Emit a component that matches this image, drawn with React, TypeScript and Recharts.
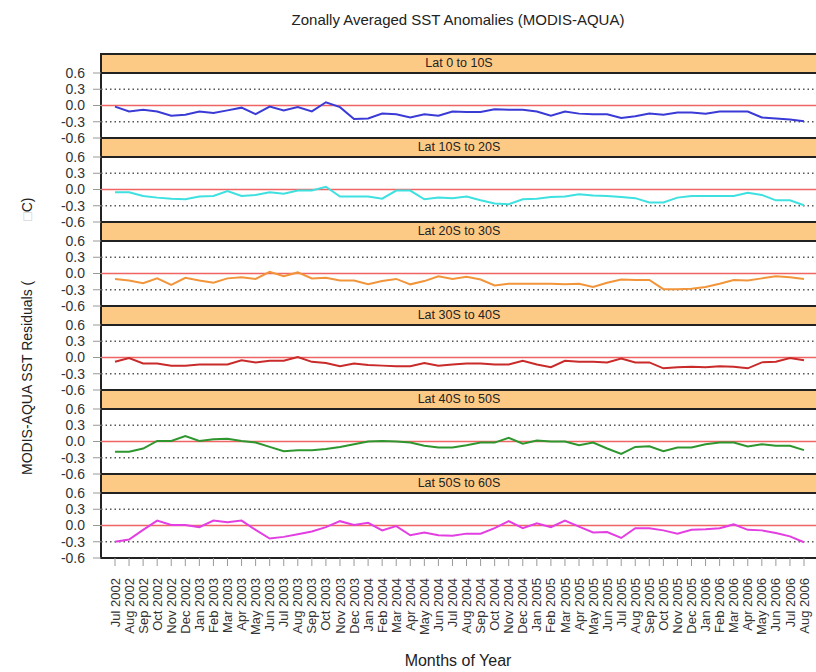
import React from 'react'
import { LineChart, Line, XAxis, YAxis, ReferenceLine } from 'recharts'

const months = [
  'Jul 2002', 'Aug 2002', 'Sep 2002', 'Oct 2002', 'Nov 2002', 'Dec 2002',
  'Jan 2003', 'Feb 2003', 'Mar 2003', 'Apr 2003', 'May 2003', 'Jun 2003',
  'Jul 2003', 'Aug 2003', 'Sep 2003', 'Oct 2003', 'Nov 2003', 'Dec 2003',
  'Jan 2004', 'Feb 2004', 'Mar 2004', 'Apr 2004', 'May 2004', 'Jun 2004',
  'Jul 2004', 'Aug 2004', 'Sep 2004', 'Oct 2004', 'Nov 2004', 'Dec 2004',
  'Jan 2005', 'Feb 2005', 'Mar 2005', 'Apr 2005', 'May 2005', 'Jun 2005',
  'Jul 2005', 'Aug 2005', 'Sep 2005', 'Oct 2005', 'Nov 2005', 'Dec 2005',
  'Jan 2006', 'Feb 2006', 'Mar 2006', 'Apr 2006', 'May 2006', 'Jun 2006',
  'Jul 2006', 'Aug 2006',
]

const lat0to10 = [
  -0.02, -0.11, -0.08, -0.11, -0.19, -0.17, -0.11, -0.14, -0.09, -0.04,
  -0.16, -0.02, -0.09, -0.03, -0.11, 0.06, -0.03, -0.25, -0.24, -0.15,
  -0.16, -0.22, -0.16, -0.19, -0.11, -0.12, -0.12, -0.07, -0.08, -0.08,
  -0.11, -0.19, -0.11, -0.15, -0.16, -0.16, -0.23, -0.2, -0.15, -0.17,
  -0.13, -0.13, -0.15, -0.11, -0.11, -0.11, -0.22, -0.24, -0.26, -0.29,
]
const lat10to20 = [
  -0.05, -0.05, -0.12, -0.15, -0.17, -0.18, -0.13, -0.12, -0.03, -0.12,
  -0.1, -0.05, -0.08, -0.02, -0.02, 0.05, -0.13, -0.13, -0.13, -0.17,
  -0.02, -0.02, -0.18, -0.15, -0.16, -0.13, -0.2, -0.26, -0.27, -0.18,
  -0.17, -0.14, -0.13, -0.09, -0.11, -0.12, -0.14, -0.16, -0.24, -0.24,
  -0.15, -0.12, -0.12, -0.12, -0.12, -0.06, -0.1, -0.2, -0.2, -0.29,
]
const lat20to30 = [
  -0.1, -0.13, -0.18, -0.09, -0.21, -0.08, -0.13, -0.17, -0.09, -0.07,
  -0.1, 0.03, -0.05, 0.02, -0.09, -0.08, -0.13, -0.13, -0.2, -0.14,
  -0.1, -0.2, -0.14, -0.05, -0.1, -0.06, -0.11, -0.22, -0.19, -0.19,
  -0.19, -0.19, -0.2, -0.19, -0.25, -0.17, -0.11, -0.12, -0.12, -0.29,
  -0.29, -0.28, -0.25, -0.19, -0.12, -0.13, -0.09, -0.05, -0.07, -0.1,
]
const lat30to40 = [
  -0.08, -0.01, -0.11, -0.11, -0.15, -0.15, -0.13, -0.13, -0.13, -0.05,
  -0.09, -0.06, -0.06, 0.01, -0.08, -0.1, -0.16, -0.11, -0.14, -0.15,
  -0.16, -0.16, -0.1, -0.15, -0.13, -0.11, -0.11, -0.13, -0.13, -0.06,
  -0.13, -0.18, -0.06, -0.08, -0.08, -0.09, -0.02, -0.09, -0.09, -0.2,
  -0.18, -0.17, -0.18, -0.16, -0.17, -0.2, -0.09, -0.08, -0.01, -0.05,
]
const lat40to50 = [
  -0.19, -0.19, -0.13, 0.01, 0.01, 0.1, 0.01, 0.04, 0.05, 0.01,
  -0.02, -0.1, -0.18, -0.16, -0.16, -0.14, -0.1, -0.05, 0.0, 0.01,
  0.0, -0.02, -0.08, -0.11, -0.11, -0.07, -0.02, -0.02, 0.07, -0.04,
  0.02, 0.0, 0.0, -0.07, -0.02, -0.13, -0.23, -0.1, -0.09, -0.18,
  -0.11, -0.11, -0.05, -0.02, -0.02, -0.09, -0.05, -0.08, -0.08, -0.16,
]
const lat50to60 = [
  -0.3, -0.26, -0.08, 0.09, 0.01, 0.01, -0.03, 0.09, 0.06, 0.09,
  -0.08, -0.24, -0.21, -0.16, -0.11, -0.03, 0.08, 0.01, 0.05, -0.09,
  -0.01, -0.18, -0.13, -0.18, -0.19, -0.15, -0.15, -0.05, 0.08, -0.05,
  0.04, -0.03, 0.09, -0.02, -0.13, -0.12, -0.23, -0.05, -0.05, -0.09,
  -0.15, -0.08, -0.07, -0.05, 0.02, -0.08, -0.09, -0.14, -0.2, -0.31,
]

const yTicks = [-0.6, -0.3, 0, 0.3, 0.6]
const dottedLevels = [0.3, -0.3]

const panels = [
  { key: 'a', title: 'Lat 0 to 10S', values: lat0to10, color: '#3a3ad6' },
  { key: 'b', title: 'Lat 10S to 20S', values: lat10to20, color: '#3fe0e0' },
  { key: 'c', title: 'Lat 20S to 30S', values: lat20to30, color: '#f2953a' },
  { key: 'd', title: 'Lat 30S to 40S', values: lat30to40, color: '#c92a2a' },
  { key: 'e', title: 'Lat 40S to 50S', values: lat40to50, color: '#2e962e' },
  { key: 'f', title: 'Lat 50S to 60S', values: lat50to60, color: '#e23ee2' },
]

const data = months.map((month, i) => {
  const row: any = { month }
  panels.forEach(p => { row[p.key] = p.values[i] })
  return row
})

const FONT = '"Liberation Sans", Arial, sans-serif'
const PANEL_TOP = 53
const PANEL_STEP = 84

const MonthTick = ({ x, y, payload }: any) => (
  <g transform={`translate(${x},${y})`}>
    <text transform="rotate(-90)" x={-10} dy="0.35em" textAnchor="end"
      fontSize={13} fill="#333" fontFamily={FONT}>
      {payload.value}
    </text>
  </g>
)

export default function App() {
  return (
    <div style={{ position: 'absolute', left: 0, top: 0, width: 816, height: 672, overflow: 'hidden', background: '#fff', fontFamily: FONT }}>
      <style>{'.recharts-surface{overflow:visible}'}</style>

      {/* titles */}
      <svg width={816} height={672} style={{ position: 'absolute', left: 0, top: 0 }}>
        <text x={458} y={25} textAnchor="middle" fontSize={15} fill="#222" fontFamily={FONT}>
          Zonally Averaged SST Anomalies (MODIS-AQUA)
        </text>
        <text x={458} y={666} textAnchor="middle" fontSize={16} fill="#222" fontFamily={FONT}>
          Months of Year
        </text>
        <text transform="translate(32,475) rotate(-90)" fontSize={14} fill="#222" fontFamily={FONT}>
          MODIS-AQUA SST Residuals (
          <tspan dx={60} fill="#c8c8c8">□</tspan>
          <tspan fill="#222">C)</tspan>
        </text>
      </svg>

      {/* panel frames and strip headers */}
      {panels.map((p, k) => (
        <div key={p.key + '-frame'} style={{
          position: 'absolute', left: 100, top: PANEL_TOP + PANEL_STEP * k, width: 718, height: 86,
          border: '2px solid #222', boxSizing: 'border-box',
        }}>
          <div style={{
            height: 17, background: '#fdca86', borderBottom: '2px solid #222',
            textAlign: 'center', fontSize: 12.5, lineHeight: '17px', color: '#222',
          }}>
            {p.title}
          </div>
        </div>
      ))}

      {panels.map((p, k) => {
        const last = k === panels.length - 1
        return (
          <div key={p.key} style={{ position: 'absolute', left: 0, top: PANEL_TOP + PANEL_STEP * k }}>
            <LineChart width={816} height={last ? 85 + 80 : 85} data={data}
              margin={{ top: 20, right: 0, bottom: 0, left: 0 }}>
              <XAxis dataKey="month" hide={!last} interval={0} padding={{ left: 14, right: 12 }}
                axisLine={false} tickLine={{ stroke: '#999' }} tickSize={8} height={80}
                tick={<MonthTick />} />
              <YAxis domain={[-0.6, 0.6]} ticks={yTicks} interval={0} width={101} axisLine={false}
                tickLine={{ stroke: '#999' }} tickSize={8} tickMargin={8}
                tickFormatter={(v: number) => v.toFixed(1)}
                tick={{ fontSize: 14, fill: '#333', fontFamily: FONT }} />
              {/* thin red zero baseline */}
              <ReferenceLine y={0} stroke="#f06464" strokeWidth={1.3} />
              {dottedLevels.map(v => (
                <ReferenceLine key={'g' + v} y={v} stroke="#555" strokeWidth={1.5} strokeDasharray="1.5 3" />
              ))}
              <Line type="linear" dataKey={p.key} stroke={p.color} strokeWidth={2}
                dot={false} isAnimationActive={false} />
            </LineChart>
          </div>
        )
      })}
    </div>
  )
}
